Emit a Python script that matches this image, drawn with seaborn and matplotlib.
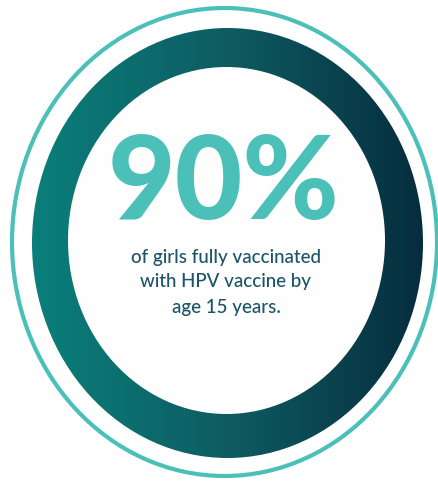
import matplotlib
matplotlib.use("Agg")
import matplotlib.pyplot as plt
from matplotlib.patches import Ellipse
import seaborn as sns
import numpy as np

# headline figure and its caption
stat_value = 90
stat_label = f"{stat_value}%"
caption_lines = ["of girls fully vaccinated", "with HPV vaccine by", "age 15 years."]

# colours
ring_colors = ["#0a7f7b", "#0e5c62", "#062d3d"]
accent = "#4bc0b8"
text_dark = "#1d5568"

sns.set_theme(style="white")
plt.rcParams["font.family"] = ["Lato", "DejaVu Sans"]

fig = plt.figure(figsize=(4.39, 4.82), dpi=100)
ax = fig.add_axes([0, 0, 1, 1])

# gradient ring: horizontal blend clipped to the outer ellipse, white disc on top
cmap = sns.blend_palette(ring_colors, as_cmap=True)
grad = np.linspace(0, 1, 256)[None, :]
outer = Ellipse((227.5, 243), 391, 430, facecolor="none", edgecolor="none")
ax.add_patch(outer)
im = ax.imshow(grad, cmap=cmap, extent=(32, 423, 458, 28), aspect="auto", zorder=1)
im.set_clip_path(outer)
ax.add_patch(Ellipse((226.5, 240.5), 317, 347, facecolor="#fdfefd", edgecolor="none", zorder=2))
# thin outer ring
ax.add_patch(Ellipse((224.5, 242), 425, 468, fill=False, edgecolor=accent, lw=3, zorder=2))

ax.text(224, 185, stat_label, ha="center", va="center", fontsize=84,
        fontweight="black", color=accent, zorder=3)
for i, line in enumerate(caption_lines):
    ax.text(226, 257 + i * 25, line, ha="center", va="center", fontsize=13.5,
            fontweight="medium", color=text_dark, zorder=3)

ax.set_xlim(0, 439)
ax.set_ylim(482, 0)
ax.axis("off")

fig.savefig("out.png", dpi=100)
